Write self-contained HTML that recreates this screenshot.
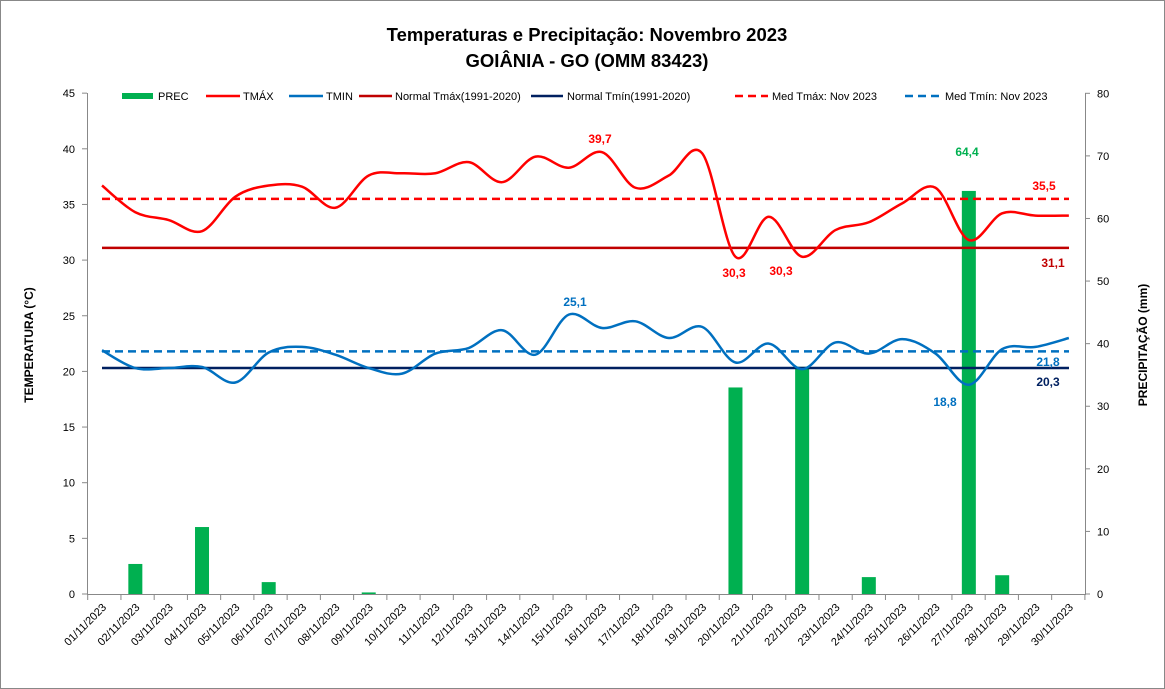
<!DOCTYPE html>
<html><head><meta charset="utf-8"><style>
body{margin:0;background:#fff}
svg{display:block;font-family:"Liberation Sans",Arial,sans-serif}
</style></head><body>
<svg id="s" width="1165" height="689" viewBox="0 0 1165 689" xmlns="http://www.w3.org/2000/svg">
<rect x="0.5" y="0.5" width="1164" height="688" fill="#fff" stroke="#888"/>
<text x="587" y="41" text-anchor="middle" font-size="18.5" font-weight="bold">Temperaturas  e Precipitação:  Novembro  2023</text>
<text x="587" y="67" text-anchor="middle" font-size="18.5" font-weight="bold">GOIÂNIA - GO (OMM 83423)</text>
<g id="g"></g>
<text transform="translate(33,345) rotate(-90)" text-anchor="middle" font-size="12" font-weight="bold">TEMPERATURA  (°C)</text>
<text transform="translate(1147,345) rotate(-90)" text-anchor="middle" font-size="12" font-weight="bold">PRECIPITAÇÃO (mm)</text>
</svg>
<script>
var g=document.getElementById('g'),h='';
var y0=594,ky=11.13,km=(594-93.3)/80;
function X(d){return 102+(d-1)*33.34}
function YT(t){return y0-t*ky}
function YM(m){return y0-m*km}
h+='<line x1="87.5" y1="93" x2="87.5" y2="594" stroke="#888"/>';
h+='<line x1="1085.5" y1="93" x2="1085.5" y2="594" stroke="#888"/>';
h+='<line x1="87" y1="594.5" x2="1086" y2="594.5" stroke="#888"/>';
for(var i=0;i<=9;i++){var y=YT(i*5);h+='<line x1="82" y1="'+y+'" x2="87" y2="'+y+'" stroke="#888"/><text x="75" y="'+(y+4)+'" text-anchor="end" font-size="11">'+(i*5)+'</text>';}
for(var i=0;i<=8;i++){var y=YM(i*10);h+='<line x1="1085" y1="'+y+'" x2="1090" y2="'+y+'" stroke="#888"/><text x="1097" y="'+(y+4)+'" font-size="11">'+(i*10)+'</text>';}
for(var d=0;d<=30;d++){var x=87.7+d*33.24;h+='<line x1="'+x+'" y1="594" x2="'+x+'" y2="600" stroke="#888"/>';}
for(var d=1;d<=30;d++){var x=X(d)+5;var s=(d<10?'0':'')+d+'/11/2023';h+='<text transform="translate('+x+',608) rotate(-45)" text-anchor="end" font-size="11">'+s+'</text>';}
var pr={2:4.8,4:10.7,6:1.9,9:0.25,20:33,22:36.3,24:2.7,27:64.4,28:3.0};
for(var k in pr){var x=X(+k),y=YM(pr[k]);h+='<rect x="'+(x-7)+'" y="'+y+'" width="14" height="'+(594-y)+'" fill="#00b050"/>';}
function sm(v){var p=v.map(function(t,i){return[X(i+1),YT(t)]});var s='M'+p[0][0]+','+p[0][1];
for(var i=0;i<p.length-1;i++){var a=p[i>0?i-1:0],b=p[i],c=p[i+1],e=p[i+2<p.length?i+2:i+1];
s+=' C'+(b[0]+(c[0]-a[0])/6)+','+(b[1]+(c[1]-a[1])/6)+' '+(c[0]-(e[0]-b[0])/6)+','+(c[1]-(e[1]-b[1])/6)+' '+c[0]+','+c[1];}return s;}
var tmax=[36.7,34.3,33.6,32.6,35.7,36.7,36.6,34.7,37.6,37.8,37.8,38.8,37.0,39.3,38.3,39.7,36.5,37.6,39.6,30.3,33.9,30.3,32.7,33.4,35.1,36.5,31.8,34.2,34.0,34.0];
var tmin=[21.9,20.3,20.3,20.4,19.0,21.7,22.2,21.5,20.3,19.8,21.6,22.1,23.7,21.5,25.1,23.9,24.5,23.0,24.0,20.8,22.5,20.2,22.6,21.6,22.9,21.6,18.8,22.0,22.2,23.0];
function hl(t,c,dash){return '<line x1="102" x2="1069" y1="'+YT(t)+'" y2="'+YT(t)+'" stroke="'+c+'" stroke-width="2.5"'+(dash?' stroke-dasharray="8,5"':'')+'/>';}
h+=hl(31.1,'#c00000');h+=hl(20.3,'#002060');h+=hl(35.5,'#ff0000',1);h+=hl(21.8,'#0070c0',1);
h+='<path d="'+sm(tmax)+'" fill="none" stroke="#ff0000" stroke-width="2.5"/>';
h+='<path d="'+sm(tmin)+'" fill="none" stroke="#0070c0" stroke-width="2.5"/>';
function lb(x,y,t,c){h+='<text x="'+x+'" y="'+y+'" text-anchor="middle" font-size="12" font-weight="bold" fill="'+c+'">'+t+'</text>';}
lb(600,143,'39,7','#ff0000');lb(734,277,'30,3','#ff0000');lb(781,275,'30,3','#ff0000');lb(967,156,'64,4','#00b050');
lb(1044,190,'35,5','#ff0000');lb(1053,267,'31,1','#c00000');lb(575,306,'25,1','#0070c0');lb(945,406,'18,8','#0070c0');
lb(1048,366,'21,8','#0070c0');lb(1048,386,'20,3','#002060');
var ly=96;
h+='<rect x="122" y="'+(ly-3)+'" width="31" height="6" fill="#00b050"/><text x="158" y="'+(ly+4)+'" font-size="11">PREC</text>';
function li(x1,x2,tx,c,t,dash){h+='<line x1="'+x1+'" x2="'+x2+'" y1="'+ly+'" y2="'+ly+'" stroke="'+c+'" stroke-width="2.5"'+(dash?' stroke-dasharray="8,5"':'')+'/><text x="'+tx+'" y="'+(ly+4)+'" font-size="11">'+t+'</text>';}
li(206,240,243,'#ff0000','TMÁX');li(289,323,326,'#0070c0','TMIN');li(359,392,395,'#c00000','Normal Tmáx(1991-2020)');
li(531,563,567,'#002060','Normal Tmín(1991-2020)');li(735,768,772,'#ff0000','Med Tmáx: Nov 2023',1);li(905,940,945,'#0070c0','Med Tmín: Nov 2023',1);
g.innerHTML=h;
</script>
</body></html>
